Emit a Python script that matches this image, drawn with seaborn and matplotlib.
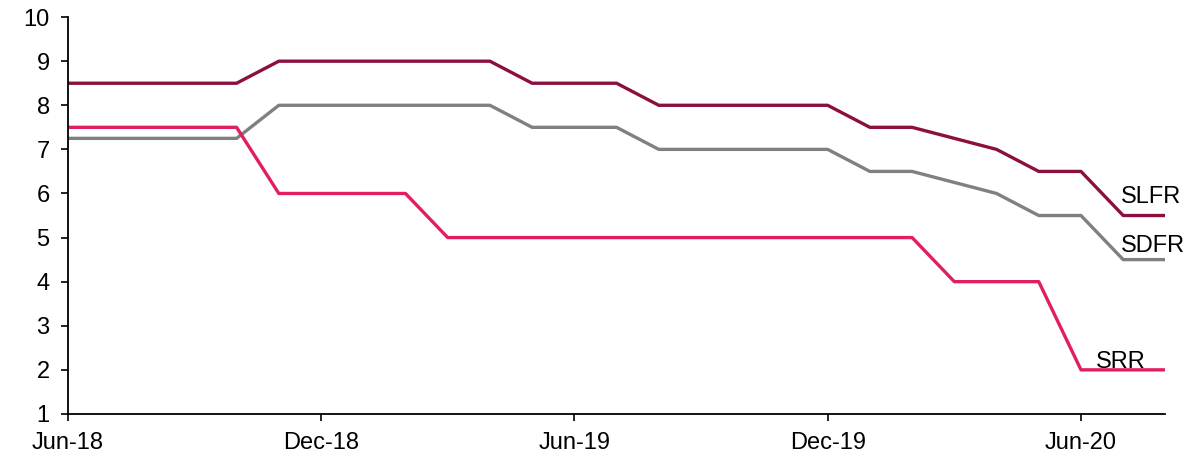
import pandas as pd
import matplotlib.pyplot as plt
import seaborn as sns

# monthly policy rates, Jun-18 .. Aug-20
months = pd.date_range('2018-06-01', '2020-08-01', freq='MS').strftime('%b-%y').tolist()
slfr = [8.5, 8.5, 8.5, 8.5, 8.5, 9, 9, 9, 9, 9, 9, 8.5, 8.5, 8.5,
        8, 8, 8, 8, 8, 7.5, 7.5, 7.25, 7, 6.5, 6.5, 5.5, 5.5]
sdfr = [7.25, 7.25, 7.25, 7.25, 7.25, 8, 8, 8, 8, 8, 8, 7.5, 7.5, 7.5,
        7, 7, 7, 7, 7, 6.5, 6.5, 6.25, 6, 5.5, 5.5, 4.5, 4.5]
srr = [7.5, 7.5, 7.5, 7.5, 7.5, 6, 6, 6, 6, 5, 5, 5, 5, 5,
       5, 5, 5, 5, 5, 5, 5, 4, 4, 4, 2, 2, 2]

series = {'SLFR': slfr, 'SDFR': sdfr, 'SRR': srr}
colors = {'SLFR': '#8b1040', 'SDFR': '#808080', 'SRR': '#e01f5c'}

df = pd.concat([pd.DataFrame({'idx': range(len(months)), 'rate': v, 'series': k})
                for k, v in series.items()])

sns.set_style('ticks')
plt.rcParams['font.family'] = ['Liberation Sans', 'DejaVu Sans']
plt.rcParams['text.color'] = 'black'

fig, ax = plt.subplots(figsize=(11.88, 4.62), dpi=100)
fig.subplots_adjust(left=0.057, right=0.981, top=0.963, bottom=0.104)

sns.lineplot(data=df, x='idx', y='rate', hue='series', palette=colors,
             linewidth=2.4, legend=False, ax=ax)

ax.set_xlim(0, len(months) - 1)
ax.set_ylim(1, 10)
ax.set_yticks(range(1, 11))
ax.set_xticks(range(0, len(months), 6))
ax.set_xticklabels(months[::6])
ax.set_xlabel('')
ax.set_ylabel('')
ax.tick_params(labelsize=17, length=5, width=1.2, color='black', labelcolor='black')
ax.tick_params(axis='x', pad=8)
ax.tick_params(axis='y', pad=8)
for s in ['left', 'bottom']:
    ax.spines[s].set_linewidth(1.3)
    ax.spines[s].set_color('black')
sns.despine(ax=ax)

ax.text(24.95, 5.92, 'SLFR', fontsize=17, va='center', ha='left', color='black')
ax.text(24.95, 4.8, 'SDFR', fontsize=17, va='center', ha='left', color='black')
ax.text(24.35, 2.18, 'SRR', fontsize=17, va='center', ha='left', color='black')

fig.savefig('out.png', dpi=100, facecolor='white')
